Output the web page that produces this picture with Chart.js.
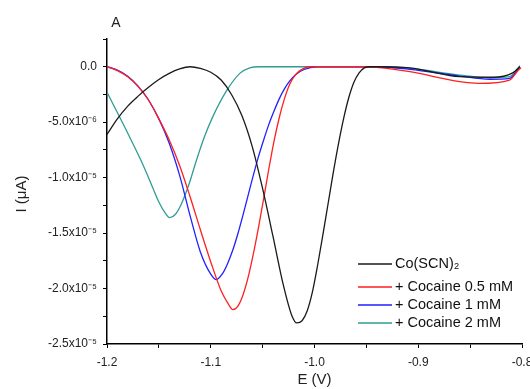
<!DOCTYPE html>
<html>
<head>
<meta charset="utf-8">
<script src="https://cdn.jsdelivr.net/npm/chart.js@4.4.0/dist/chart.umd.min.js"></script>
<style>
  body { margin: 0; background: #fff; }
  #wrap { width: 530px; height: 389px; }
</style>
</head>
<body>
<div id="wrap"><canvas id="cv" width="530" height="389"></canvas></div>
<script>
// series labels and colours
const seriesNames = ["Co(SCN)\u2082", "+ Cocaine 0.5 mM", "+ Cocaine 1 mM", "+ Cocaine 2 mM"];
const seriesColors = ["#1a1a1a", "#ff1f1f", "#2121ff", "#2f9c95"];

// Co(SCN)2 : potential (V) and current
const coE = [-1.2, -1.19, -1.18, -1.17, -1.16, -1.15, -1.14, -1.13, -1.12, -1.11, -1.10, -1.09, -1.08, -1.07, -1.06, -1.05, -1.04, -1.03, -1.022, -1.017,
             -1.012, -1.007, -1.002, -0.997, -0.992, -0.987, -0.982, -0.977, -0.972, -0.967, -0.962, -0.957, -0.952, -0.947, -0.94, -0.908, -0.86, -0.828, -0.809, -0.802];
const coI = [-6.1e-6, -4.7e-6, -3.55e-6, -2.65e-6, -1.85e-6, -1.15e-6, -0.6e-6, -0.2e-6, 0, -0.15e-6, -0.5e-6, -1.2e-6, -2.5e-6, -4.4e-6, -7.2e-6, -11.0e-6, -15.3e-6, -19.7e-6, -22.4e-6, -23.1e-6,
             -22.9e-6, -22.0e-6, -20.3e-6, -17.9e-6, -15.2e-6, -12.4e-6, -9.6e-6, -7.0e-6, -4.7e-6, -2.8e-6, -1.4e-6, -0.55e-6, -0.1e-6, 0, 0, -0.1e-6, -0.9e-6, -0.95e-6, -0.55e-6, 0];

// + cocaine 0.5 mM
const c05E = [-1.2, -1.19, -1.18, -1.17, -1.16, -1.15, -1.14, -1.13, -1.12, -1.11, -1.10, -1.09, -1.083, -1.0788, -1.074, -1.069, -1.064, -1.059, -1.054, -1.049,
              -1.044, -1.039, -1.034, -1.029, -1.024, -1.019, -1.014, -1.0042, -0.95, -0.94, -0.908, -0.86, -0.841, -0.812, -0.804, -0.801];
const c05I = [0, -0.35e-6, -0.9e-6, -1.8e-6, -3.0e-6, -4.7e-6, -6.6e-6, -8.9e-6, -11.7e-6, -14.7e-6, -17.6e-6, -20.2e-6, -21.4e-6, -21.9e-6, -21.6e-6, -20.6e-6, -19.0e-6, -16.9e-6, -14.5e-6, -11.9e-6,
              -9.2e-6, -6.7e-6, -4.6e-6, -2.9e-6, -1.6e-6, -0.8e-6, -0.35e-6, 0, 0, -0.05e-6, -0.45e-6, -1.35e-6, -1.5e-6, -1.2e-6, -0.36e-6, -0.1e-6];

// + cocaine 1 mM
const c1E = [-1.2, -1.19, -1.18, -1.17, -1.16, -1.15, -1.14, -1.13, -1.12, -1.11, -1.10, -1.0945, -1.089, -1.084, -1.079, -1.074, -1.069, -1.064, -1.059, -1.054,
             -1.049, -1.044, -1.039, -1.034, -1.029, -1.024, -1.018, -1.01, -0.998, -0.94, -0.908, -0.86, -0.831, -0.812, -0.802];
const c1I = [0, -0.3e-6, -0.85e-6, -1.75e-6, -3.0e-6, -4.7e-6, -6.9e-6, -9.8e-6, -13.4e-6, -16.7e-6, -18.7e-6, -19.2e-6, -18.7e-6, -17.8e-6, -16.6e-6, -15.1e-6, -13.4e-6, -11.6e-6, -9.8e-6, -8.1e-6,
             -6.6e-6, -5.2e-6, -4.0e-6, -2.9e-6, -2.0e-6, -1.3e-6, -0.7e-6, -0.25e-6, 0, 0, -0.23e-6, -0.84e-6, -1.13e-6, -1.05e-6, 0];

// + cocaine 2 mM
const c2E = [-1.2, -1.194, -1.181, -1.169, -1.162, -1.1555, -1.1505, -1.1445, -1.1395, -1.134, -1.128, -1.121, -1.114, -1.106, -1.098, -1.085, -1.072, -1.0624, -1.053,
             -0.95, -0.908, -0.86, -0.831, -0.812, -0.802];
const c2I = [-2.3e-6, -3.4e-6, -5.8e-6, -8.1e-6, -9.55e-6, -11.0e-6, -12.1e-6, -13.1e-6, -13.6e-6, -13.3e-6, -12.3e-6, -10.6e-6, -8.5e-6, -6.3e-6, -4.5e-6, -2.2e-6, -0.6e-6, -0.1e-6, 0,
             0, -0.15e-6, -0.75e-6, -1.0e-6, -0.9e-6, 0.1e-6];

// axis limits / tick steps
const xRange = [-1.2, -0.8];
const yRange = [-2.5e-5, 2.5e-6];
const xStep = 0.05;
const yStep = 2.5e-6;

const seriesE = [coE, c05E, c1E, c2E];
const seriesI = [coI, c05I, c1I, c2I];

const FONT = '"Liberation Sans", Arial, sans-serif';
Chart.defaults.font.family = FONT;
Chart.defaults.color = '#222';

const datasets = seriesNames.map((name, k) => ({
    label: name,
    data: seriesE[k].map((e, i) => ({ x: e, y: seriesI[k][i] })),
    borderColor: seriesColors[k],
    backgroundColor: seriesColors[k],
    borderWidth: 1.3,
    pointRadius: 0,
    fill: false,
    cubicInterpolationMode: 'monotone'
}));

// titles, panel letter and legend drawn by hand
const extras = {
    id: 'extras',
    afterDraw(chart) {
        const ctx = chart.ctx;
        const area = chart.chartArea;
        ctx.save();
        ctx.fillStyle = '#222';
        ctx.textBaseline = 'middle';
        ctx.textAlign = 'center';
        ctx.font = '14px ' + FONT;
        ctx.fillText('A', 116, 23);
        ctx.font = '15px ' + FONT;
        ctx.fillText('E (V)', (area.left + area.right) / 2, 380);
        ctx.save();
        ctx.translate(22, 194);
        ctx.rotate(-Math.PI / 2);
        ctx.fillText('I (\u03bcA)', 0, 0);
        ctx.restore();

        // legend
        const rows = [264, 287, 305, 323];
        ctx.textAlign = 'left';
        ctx.font = '14.5px ' + FONT;
        chart.data.datasets.forEach((ds, i) => {
            ctx.strokeStyle = ds.borderColor;
            ctx.lineWidth = 1.3;
            ctx.beginPath();
            ctx.moveTo(358, rows[i]);
            ctx.lineTo(392, rows[i]);
            ctx.stroke();
            ctx.fillStyle = '#111';
            ctx.fillText(ds.label, 395, rows[i]);
        });
        ctx.restore();
    }
};

function yLabel(v) {
    const u = Math.round(v * 1e7) / 10; // in 1e-6 units
    if (Math.round(u / 2.5) % 2 !== 0) return '';
    if (u === 0) return '0.0';
    if (Math.abs(u) >= 10) return (u / 10).toFixed(1) + 'x10\u207b\u2075';
    return u.toFixed(1) + 'x10\u207b\u2076';
}

new Chart(document.getElementById('cv'), {
    type: 'line',
    data: { datasets: datasets },
    plugins: [extras],
    options: {
        responsive: false,
        animation: false,
        layout: { padding: { left: 0, right: 8, top: 39, bottom: 0 } },
        plugins: { legend: { display: false }, tooltip: { enabled: false } },
        scales: {
            x: {
                type: 'linear',
                min: xRange[0],
                max: xRange[1],
                border: { display: true, color: '#000', width: 1.5 },
                grid: { drawOnChartArea: false, drawTicks: true, tickLength: 4, tickColor: '#000' },
                ticks: {
                    stepSize: xStep,
                    padding: 7,
                    maxRotation: 0,
                    autoSkip: false,
                    font: { size: 12 },
                    color: '#222',
                    callback: (v) => (Math.round(v * 100) % 10 === 0 ? v.toFixed(1) : '')
                },
                afterFit: (s) => { s.height = 45; s.paddingLeft = 0; s.paddingRight = 0; }
            },
            y: {
                min: yRange[0],
                max: yRange[1],
                border: { display: true, color: '#000', width: 1.5 },
                grid: { drawOnChartArea: false, drawTicks: true, tickLength: 4, tickColor: '#000' },
                ticks: {
                    stepSize: yStep,
                    padding: 6,
                    autoSkip: false,
                    font: { size: 12 },
                    color: '#222',
                    callback: yLabel
                },
                afterFit: (s) => { s.width = 107; s.paddingTop = 0; s.paddingBottom = 0; }
            }
        }
    }
});
</script>
</body>
</html>
